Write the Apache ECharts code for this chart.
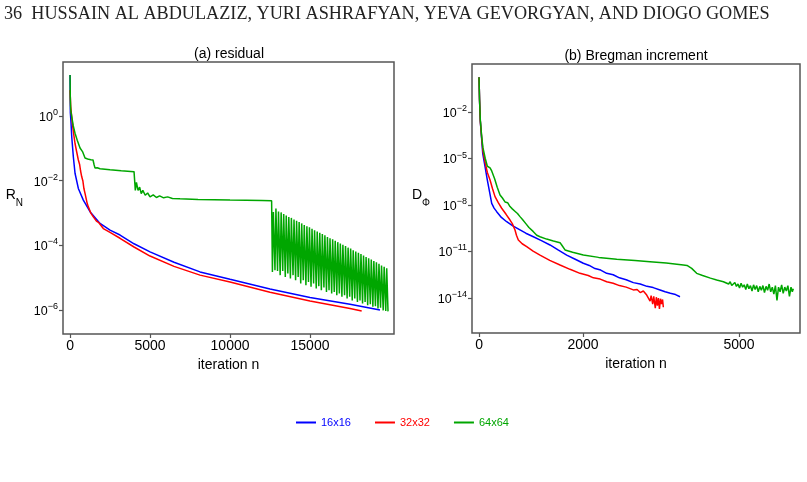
<!DOCTYPE html>
<html>
<head>
<meta charset="utf-8">
<title>residual / Bregman increment</title>
<script src="https://cdn.jsdelivr.net/npm/echarts@6.0.0/dist/echarts.min.js"></script>
<style>
html, body { margin: 0; padding: 0; background: #fff; }
#main { width: 807px; height: 482px; }
</style>
</head>
<body>
<div id="main"></div>
<script>
// all y values are log10 of the plotted quantity
// (a) residual R_N  -- [iteration, log10 R_N]
var resBlue = [[0,1.27],[20,0.1],[60,-0.2],[106,-0.64],[206,-1.26],[312,-1.77],[519,-2.24],[831,-2.6],[1250,-2.96],[1875,-3.32],[2500,-3.53],[3125,-3.68],[4000,-3.95],[5000,-4.2],[6500,-4.52],[8125,-4.82],[10000,-5.05],[12500,-5.35],[15000,-5.61],[17500,-5.82],[19375,-6.0]];
var resRed = [[0,0.8],[40,0.3],[100,0.0],[169,-0.33],[240,-0.6],[312,-0.85],[420,-1.12],[519,-1.36],[600,-1.5],[660,-1.7],[731,-1.88],[800,-2.0],[870,-2.25],[937,-2.39],[1000,-2.45],[1070,-2.7],[1144,-2.81],[1220,-2.85],[1300,-3.0],[1380,-2.95],[1456,-3.12],[1550,-3.1],[1650,-3.25],[1800,-3.3],[2081,-3.48],[2500,-3.6],[3125,-3.78],[4000,-4.05],[5000,-4.33],[6500,-4.65],[8125,-4.92],[10000,-5.13],[12500,-5.45],[15000,-5.72],[17500,-5.95],[18230,-6.03]];
var resGreen = [[0,1.27],[15,0.6],[40,0.2],[100,0.0],[200,-0.3],[312,-0.53],[450,-0.75],[625,-0.99],[780,-1.1],[937,-1.3],[1100,-1.33],[1300,-1.35],[1437,-1.36],[1500,-1.5],[1562,-1.61],[1700,-1.6],[1875,-1.63],[2500,-1.66],[3200,-1.69],[4000,-1.72],[4062,-1.75],[4080,-2.3],[4150,-2.05],[4250,-2.3],[4350,-2.2],[4450,-2.4],[4550,-2.3],[4700,-2.45],[4850,-2.38],[5000,-2.5],[5200,-2.44],[5400,-2.52],[5600,-2.47],[5850,-2.53],[6100,-2.5],[6400,-2.55],[6875,-2.56],[8000,-2.58],[10000,-2.6],[12000,-2.61],[12600,-2.62]];
// oscillating tail of 64x64 after n ~ 12650
var gSpikeN = [12650,12810,12970,13135,13295,13455,13615,13775,13940,14100,14260,14420,14580,14745,14905,15065,15225,15390,15550,15710,15870,16030,16190,16355,16515,16675,16835,16995,17160,17320,17480,17640,17800,17965,18125,18285,18445,18605,18770,18930,19090,19250,19410,19575,19735];
var gTrough = [-4.82,-4.77,-4.79,-4.92,-4.79,-4.98,-4.87,-5.02,-4.92,-5.08,-4.98,-5.18,-5.08,-5.23,-5.13,-5.28,-5.18,-5.33,-5.26,-5.39,-5.3,-5.44,-5.39,-5.49,-5.44,-5.54,-5.49,-5.59,-5.54,-5.64,-5.59,-5.7,-5.64,-5.75,-5.7,-5.8,-5.75,-5.85,-5.82,-5.9,-5.88,-5.95,-5.93,-6.01,-6.03];
var gPeak = [-2.97,-2.86,-2.95,-2.98,-3.03,-3.08,-3.12,-3.15,-3.2,-3.24,-3.28,-3.32,-3.37,-3.41,-3.44,-3.49,-3.53,-3.57,-3.61,-3.65,-3.69,-3.74,-3.78,-3.81,-3.86,-3.9,-3.94,-3.98,-4.02,-4.07,-4.1,-4.15,-4.19,-4.23,-4.27,-4.31,-4.36,-4.4,-4.44,-4.48,-4.52,-4.57,-4.62,-4.66,-4.71];
var gEnd = [19875, -6.04];

// (b) Bregman increment D_Phi -- [iteration, log10 D_Phi]
var incBlue = [[0,0.24],[10,-1.2],[25,-2.6],[52,-3.8],[71,-4.66],[115,-5.5],[160,-6.39],[200,-7.1],[244,-7.89],[290,-8.2],[340,-8.43],[430,-8.8],[532,-9.08],[650,-9.35],[788,-9.61],[900,-9.82],[1045,-10.05],[1200,-10.3],[1365,-10.58],[1520,-10.9],[1686,-11.23],[1850,-11.5],[2006,-11.76],[2120,-11.9],[2230,-12.1],[2340,-12.2],[2455,-12.41],[2580,-12.5],[2700,-12.7],[2830,-12.82],[2968,-13.01],[3100,-13.1],[3230,-13.25],[3350,-13.33],[3481,-13.48],[3580,-13.6],[3680,-13.7],[3780,-13.78],[3865,-13.92]];
var incRed = [[0,0.24],[10,-1.2],[25,-2.6],[52,-3.7],[75,-4.5],[120,-5.3],[160,-5.9],[212,-6.39],[260,-6.95],[308,-7.46],[370,-7.85],[436,-8.21],[520,-8.6],[596,-8.97],[640,-9.2],[660,-9.29],[692,-9.61],[720,-9.95],[756,-10.26],[830,-10.5],[917,-10.69],[1040,-10.97],[1173,-11.23],[1360,-11.57],[1558,-11.87],[1750,-12.15],[1942,-12.41],[2100,-12.55],[2200,-12.7],[2330,-12.78],[2455,-12.95],[2580,-13.05],[2700,-13.2],[2830,-13.3],[2968,-13.48],[3040,-13.45],[3100,-13.65],[3160,-13.55],[3225,-13.81],[3260,-13.7],[3290,-14.2],[3310,-13.85],[3340,-14.4],[3360,-13.9],[3390,-14.66],[3410,-13.95],[3430,-14.5],[3450,-14.0],[3470,-14.7],[3490,-14.05],[3510,-14.4],[3530,-14.1],[3545,-14.6]];
var incGreen = [[0,0.24],[10,-1.2],[25,-2.5],[52,-3.6],[75,-4.3],[120,-5.0],[160,-5.5],[212,-5.6],[244,-5.8],[276,-5.78],[300,-6.3],[350,-6.85],[404,-7.35],[450,-7.55],[500,-7.8],[550,-7.85],[596,-8.1],[640,-8.25],[690,-8.4],[740,-8.55],[788,-8.75],[840,-8.95],[900,-9.2],[960,-9.45],[1045,-9.72],[1110,-9.95],[1173,-10.05],[1300,-10.2],[1430,-10.32],[1558,-10.43],[1590,-10.58],[1654,-10.9],[1800,-11.05],[2006,-11.23],[2300,-11.38],[2648,-11.5],[3000,-11.58],[3288,-11.66],[3600,-11.75],[3929,-11.87],[4000,-11.9],[4090,-12.09],[4186,-12.41],[4300,-12.55],[4450,-12.72],[4571,-12.84],[4700,-12.95],
	[4800,-13.1],[4830,-12.95],[4860,-13.2],[4891,-13.16],[4920,-13.0],[4950,-13.25],[4980,-13.1],[5010,-13.35],[5040,-13.05],[5070,-13.3],[5100,-13.15],[5130,-13.45],[5160,-13.1],[5190,-13.4],[5220,-13.2],[5250,-13.55],[5280,-13.15],[5310,-13.45],[5340,-13.2],[5370,-13.6],[5400,-13.25],[5430,-13.5],[5460,-13.2],[5490,-13.65],[5520,-13.25],[5550,-13.5],[5580,-13.1],[5610,-13.6],[5640,-13.3],[5670,-13.75],[5700,-13.2],[5730,-14.15],[5760,-13.3],[5790,-13.6],[5820,-13.15],[5850,-13.7],[5880,-13.3],[5910,-13.55],[5940,-13.2],[5970,-13.9],[6000,-13.3],[6025,-13.6],[6045,-13.4]];

var names = ['16x16', '32x32', '64x64'];
var colors = ['#0000ff', '#ff0000', '#00a600'];
var resTicksX = [0, 5000, 10000, 15000];
var resTicksY = [0, -2, -4, -6];
var incTicksX = [0, 2000, 5000];
var incTicksY = [-2, -5, -8, -11, -14];

var greenTail = [];
for (var k = 0; k < gSpikeN.length; k++) {
	greenTail.push([gSpikeN[k], gTrough[k]]);
	greenTail.push([gSpikeN[k] + 60, gPeak[k]]);
}
greenTail.push(gEnd);
var resGreenAll = resGreen.concat(greenTail);

var frame = '#555';
var font = 'Liberation Sans, Arial, Helvetica, sans-serif';

function powLabel(v) {
	var e = Math.round(v);
	return '{b|10}{s|' + (e < 0 ? '\u2212' + (-e) : e) + '}';
}
var powRich = {
	b: { fontSize: 12.5, color: '#000', lineHeight: 16, verticalAlign: 'bottom' },
	s: { fontSize: 9, color: '#000', lineHeight: 9, verticalAlign: 'top' }
};

function xAxisFor(idx, min, max, ticks) {
	return {
		gridIndex: idx, type: 'value', min: min, max: max,
		splitLine: { show: false },
		axisLine: { show: false, onZero: false },
		axisTick: { show: true, length: 4, customValues: ticks, lineStyle: { color: frame, width: 1.2 } },
		axisLabel: { customValues: ticks, fontSize: 14, color: '#000', margin: 5,
			formatter: function (v) { return String(v); } },
		name: 'iteration n', nameLocation: 'middle', nameGap: 24,
		nameTextStyle: { fontSize: 14, color: '#000' }
	};
}
function yAxisFor(idx, min, max, ticks, name, gap) {
	return {
		gridIndex: idx, type: 'value', min: min, max: max,
		splitLine: { show: false },
		axisLine: { show: false, onZero: false },
		axisTick: { show: true, length: 4, customValues: ticks, lineStyle: { color: frame, width: 1.2 } },
		axisLabel: { customValues: ticks, margin: 5, formatter: powLabel, rich: powRich },
		name: name, nameLocation: 'middle', nameRotate: 0, nameGap: gap,
		nameTextStyle: { rich: {
			a: { fontSize: 14, color: '#000', lineHeight: 20, verticalAlign: 'top' },
			n: { fontSize: 10, color: '#000', lineHeight: 10, verticalAlign: 'bottom' }
		} }
	};
}
function lineFor(i, xi, data) {
	return {
		name: names[i], type: 'line', xAxisIndex: xi, yAxisIndex: xi,
		data: data, symbol: 'none', showSymbol: false,
		lineStyle: { color: colors[i], width: 1.5 },
		itemStyle: { color: colors[i] }
	};
}

var chart = echarts.init(document.getElementById('main'));
var option = {
	animation: false,
	backgroundColor: '#fff',
	textStyle: { fontFamily: font },
	grid: [
		{ left: 63, top: 62, width: 331, height: 272, show: true, borderColor: frame, borderWidth: 1.5 },
		{ left: 472, top: 64, width: 328, height: 269, show: true, borderColor: frame, borderWidth: 1.5 }
	],
	xAxis: [
		xAxisFor(0, -440, 20250, resTicksX),
		xAxisFor(1, -135, 6173, incTicksX)
	],
	yAxis: [
		yAxisFor(0, -6.74, 1.67, resTicksY, '{a|R}{n|N}', 40),
		yAxisFor(1, -16.26, 1.1, incTicksY, '{a|D}{n|\u03a6}', 42)
	],
	legend: {
		left: 291, top: 412, icon: 'rect', itemWidth: 20, itemHeight: 2, itemGap: 24,
		textStyle: { fontSize: 11 },
		data: [
			{ name: names[0], textStyle: { color: colors[0] } },
			{ name: names[1], textStyle: { color: colors[1] } },
			{ name: names[2], textStyle: { color: colors[2] } }
		]
	},
	graphic: [
		{ type: 'text', x: 4, y: 14, style: { text: '36  HUSSAIN AL ABDULAZIZ, YURI ASHRAFYAN, YEVA GEVORGYAN, AND DIOGO GOMES',
			fontFamily: 'Liberation Serif, Times New Roman, serif', fontSize: 18.2, fill: '#222', verticalAlign: 'middle' } },
		{ type: 'text', x: 229, y: 54, style: { text: '(a) residual', fontFamily: font, fontSize: 14, fill: '#000', align: 'center', verticalAlign: 'middle' } },
		{ type: 'text', x: 636, y: 56, style: { text: '(b) Bregman increment', fontFamily: font, fontSize: 14, fill: '#000', align: 'center', verticalAlign: 'middle' } }
	],
	series: [
		lineFor(0, 0, resBlue),
		lineFor(1, 0, resRed),
		lineFor(2, 0, resGreenAll),
		lineFor(0, 1, incBlue),
		lineFor(1, 1, incRed),
		lineFor(2, 1, incGreen)
	]
};
chart.setOption(option);
</script>
</body>
</html>
